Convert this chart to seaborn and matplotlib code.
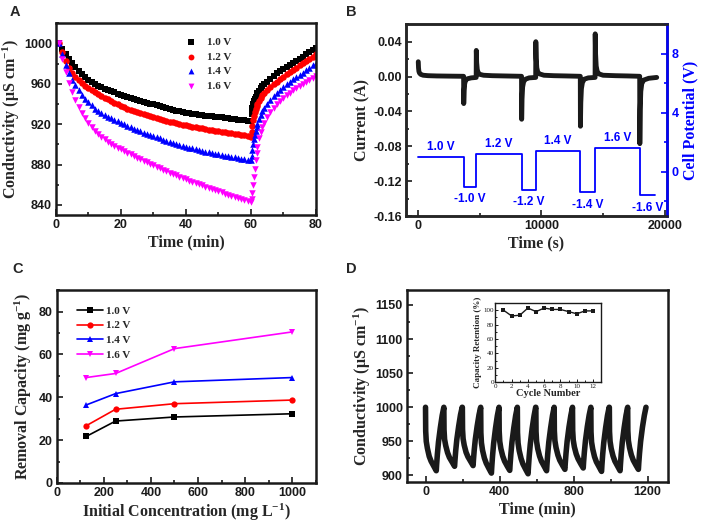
import numpy as np
import pandas as pd
import matplotlib
matplotlib.use('Agg')
import matplotlib.pyplot as plt
from matplotlib.ticker import MultipleLocator
import seaborn as sns

# ---------------- Panel A: conductivity vs time at four voltages ----------------
a_time = list(range(1, 61)) + [60.25, 60.5, 60.75, 61, 61.25, 61.5, 61.75, 62, 62.5, 63, 63.5, 64] + list(range(65, 81))

a_10v = [1000, 994, 989, 985, 981, 977, 973, 969.5, 966.5, 964,
         962, 960, 958, 956.5, 955, 953.5, 952.5, 951.5, 950, 949,
         948, 947, 946, 945, 944, 943, 942, 941, 940, 939.5,
         938.5, 937.5, 936.5, 936, 935, 934.5, 933.5, 933, 932, 931.5,
         931, 930.5, 930, 929.5, 929, 928.5, 928, 927.8, 927.4, 927,
         926.6, 926.2, 925.8, 925.4, 925, 924.6, 924.2, 923.8, 923.4, 923,
         930, 936, 940, 943, 945, 947, 949, 950.5, 953, 955.5, 957.5, 959.5,
         962, 965, 968, 970.5, 973, 975, 977, 979, 981, 983, 985, 987, 989, 991, 993, 995]
a_12v = [1000, 991, 983, 976, 971, 967, 963.5, 961, 958, 956,
         954, 952, 950, 948, 946, 944.5, 943, 941, 939.5, 938,
         937, 935.5, 934.5, 933, 932, 931, 930, 929, 928, 927,
         926, 925, 924.2, 923.4, 922.6, 921.8, 921, 920.3, 919.6, 919,
         918.3, 917.6, 917, 916.4, 915.8, 915.2, 914.6, 914, 913.4, 912.9,
         912.4, 911.9, 911.4, 910.9, 910.4, 909.9, 909.4, 908.8, 908.2, 907.5,
         912, 918, 924, 928, 932, 935, 937.5, 939.5, 943, 946, 948.5, 950.5,
         953.5, 956.5, 959.5, 962, 964.5, 967, 969.5, 971.5, 974, 976, 978.5, 980.5, 983, 985, 987, 989]
a_14v = [1000, 989, 979, 971, 964, 959, 954, 949, 945, 941.5,
         938.5, 935.5, 933, 931, 929, 927.3, 925.8, 924.3, 922.9, 921.5,
         920, 918.5, 917, 915.5, 914, 912.8, 911.6, 910.4, 909.2, 908,
         906.9, 905.8, 904.7, 903.6, 902.6, 901.6, 900.6, 899.6, 898.6, 897.7,
         896.8, 896, 895.2, 894.4, 893.6, 892.9, 892.2, 891.5, 890.8, 890.1,
         889.5, 888.9, 888.3, 887.7, 887.1, 886.5, 885.9, 885.3, 884.6, 884,
         888, 894, 900, 905, 909, 913, 917, 920, 925, 929.5, 933, 936,
         940, 944, 947.5, 951, 954, 957, 959.5, 962, 964.5, 966.5, 968.5, 971, 973.5, 976, 978.5, 981]
a_16v = [1000, 985, 972, 961, 952, 944, 937, 931, 926, 921.5,
         917, 913.5, 910.5, 907.5, 905, 902.5, 900.5, 898.5, 896.5, 895,
         893.3, 891.6, 890, 888.4, 886.8, 885.2, 883.6, 882.1, 880.6, 879.1,
         877.6, 876.2, 874.8, 873.4, 872, 870.6, 869.3, 868, 866.7, 865.4,
         864.1, 862.9, 861.7, 860.5, 859.3, 858.1, 856.9, 855.7, 854.6, 853.5,
         852.4, 851.3, 850.2, 849.1, 848, 847, 846, 845, 844, 843,
         846, 852, 860, 868, 876, 884, 891, 897, 906, 912, 917, 921,
         927, 932, 936, 940, 943, 946, 948.5, 951, 953.5, 955.5, 957.5, 959.5, 961.5, 963.5, 965.5, 967.5]

voltages = ['1.0 V', '1.2 V', '1.4 V', '1.6 V']
colors = ['#000000', '#FF0000', '#0000FF', '#FF00FF']
markers = ['s', 'o', '^', 'v']

# ---------------- Panel B: current and applied cell potential ----------------
b_time = [0, 20, 50, 100, 200, 400, 800, 1500, 2500, 3680,
          3690, 3720, 3770, 3850, 4000, 4300, 4700,
          4710, 4740, 4790, 4870, 5000, 5300, 6000, 7000, 8380,
          8390, 8420, 8470, 8550, 8700, 9000, 9530,
          9540, 9570, 9620, 9700, 9850, 10200, 11000, 12000, 13150,
          13160, 13190, 13240, 13320, 13470, 13800, 14350,
          14360, 14390, 14440, 14520, 14670, 15000, 16000, 17000, 17970,
          17980, 18010, 18060, 18140, 18300, 18700, 19350]
b_current = [0.017, 0.010, 0.006, 0.004, 0.0025, 0.0015, 0.001, 0.0007, 0.0005, 0.0003,
             -0.031, -0.016, -0.008, -0.004, -0.0025, -0.0015, -0.001,
             0.030, 0.016, 0.008, 0.004, 0.0025, 0.0015, 0.001, 0.0007, 0.0003,
             -0.049, -0.026, -0.012, -0.006, -0.003, -0.0015, -0.001,
             0.040, 0.021, 0.010, 0.005, 0.003, 0.0015, 0.001, 0.0007, 0.0003,
             -0.057, -0.030, -0.014, -0.007, -0.003, -0.0015, -0.001,
             0.049, 0.026, 0.012, 0.006, 0.003, 0.0015, 0.001, 0.0007, 0.0003,
             -0.077, -0.038, -0.017, -0.008, -0.004, -0.002, -0.001]
p_time = [0, 3680, 4710, 8390, 9540, 13160, 14360, 17980, 19250]
p_volt = [1.0, -1.0, 1.2, -1.2, 1.4, -1.4, 1.6, -1.6, -1.6]
p_labels = ['1.0 V', '-1.0 V', '1.2 V', '-1.2 V', '1.4 V', '-1.4 V', '1.6 V', '-1.6 V']

# ---------------- Panel C: removal capacity vs initial concentration ----------------
c_conc = [125, 250, 500, 1000]
c_10v = [21.7, 28.9, 30.8, 32.3]
c_12v = [26.7, 34.4, 37.0, 38.7]
c_14v = [36.4, 41.7, 47.2, 49.2]
c_16v = [49.2, 51.1, 62.7, 70.5]

# ---------------- Panel D: cycling stability ----------------
d_cycle_start = [0, 99, 199, 298, 397, 496, 596, 695, 794, 893, 993, 1092]
d_offset = [0, 1, 4, 10, 20, 30, 45, 58, 60, 64, 70, 80, 90, 99]
d_cond = [
    [1000, 965, 950, 940, 928, 921, 913.5, 907, 916, 931, 949, 970, 988, 1000],
    [1000, 967, 953, 944, 933.5, 926.5, 919.5, 913.5, 922, 936, 952.5, 972, 989, 1000],
    [1000, 967.5, 954, 944.5, 934, 927.5, 920.5, 914.5, 923, 937, 953, 972.5, 989, 1000],
    [1000, 963, 948, 937, 925.5, 918, 910, 903.5, 913, 928.5, 947, 969, 987.5, 1000],
    [1000, 965, 950, 939.5, 928.5, 921, 913.5, 907.5, 916.5, 931, 949, 970, 988, 1000],
    [1000, 963, 947.5, 936.5, 925, 917, 909, 902.5, 912, 928, 946, 969, 987, 1000],
    [1000, 964.5, 950, 939.5, 928.5, 921, 913.5, 907, 916, 931, 949, 970, 988, 1000],
    [1000, 965.5, 951, 941, 930, 922.5, 915, 909, 918, 932.5, 950, 971, 988, 1000],
    [1000, 966, 952, 942, 931.5, 924.5, 917, 911, 920, 934, 951, 971.5, 988.5, 1000],
    [1000, 964, 949, 939, 927.5, 920, 912.5, 906, 915.5, 930.5, 948.5, 970, 988, 1000],
    [1000, 964.5, 950, 939.5, 928.5, 921, 913.5, 907, 916, 931, 949, 970, 988, 1000],
    [1000, 965.5, 951, 941, 930, 922.5, 915, 909, 918, 932.5, 950, 971, 988, 1000],
]
inset_cycle = [1, 2, 3, 4, 5, 6, 7, 8, 9, 10, 11, 12]
inset_retention = [100, 92, 93, 103, 98, 103, 101, 101, 98, 95, 99, 99]

# ---------------- style ----------------
sns.set_theme(style='ticks')
plt.rcParams['font.family'] = ['Liberation Sans', 'DejaVu Sans']
plt.rcParams['font.weight'] = 'bold'
plt.rcParams['axes.unicode_minus'] = False
plt.rcParams['mathtext.fontset'] = 'custom'
plt.rcParams['mathtext.rm'] = 'Liberation Serif:bold'
plt.rcParams['mathtext.it'] = 'Liberation Serif:bold'
plt.rcParams['mathtext.bf'] = 'Liberation Serif:bold'

SERIF = 'Liberation Serif'
BLUE = '#0000FF'
LABEL_FS = 11.5
TICK_FS = 9


def style_axes(ax, lw=1.8, tick_fs=TICK_FS):
    for s in ax.spines.values():
        s.set_linewidth(lw)
        s.set_color('k')
    ax.tick_params(which='both', direction='in', top=False, right=False,
                   width=1.2, labelsize=tick_fs, pad=3, colors='k')
    ax.tick_params(which='major', length=4)
    ax.tick_params(which='minor', length=2.5)


def serif_label(ax, xl, yl, size=LABEL_FS, xpad=2, ypad=4):
    ax.set_xlabel(xl, fontfamily=SERIF, fontsize=size, fontweight='bold', labelpad=xpad)
    ax.set_ylabel(yl, fontfamily=SERIF, fontsize=size, fontweight='bold', labelpad=ypad)


fig = plt.figure(figsize=(7.06, 5.27), dpi=100)

# ---- A ----
axA = fig.add_axes([0.0793, 0.592, 0.368, 0.364])
for vals, lab, col, mk in zip([a_10v, a_12v, a_14v, a_16v], voltages, colors, markers):
    sns.scatterplot(x=a_time, y=vals, ax=axA, marker=mk, color=col, s=22,
                    linewidth=0, label=lab)
axA.set_xlim(0, 80)
axA.set_ylim(830, 1020)
axA.xaxis.set_major_locator(MultipleLocator(20))
axA.xaxis.set_minor_locator(MultipleLocator(10))
axA.yaxis.set_major_locator(MultipleLocator(40))
axA.yaxis.set_minor_locator(MultipleLocator(20))
style_axes(axA)
serif_label(axA, 'Time (min)', r'Conductivity (μS cm$^{-1}$)', ypad=1)
axA.legend(loc='upper left', bbox_to_anchor=(0.44, 0.98), frameon=False,
           prop={'family': SERIF, 'weight': 'bold', 'size': 8},
           handletextpad=0.4, labelspacing=0.45, markerscale=0.9)

# ---- B ----
axB = fig.add_axes([0.575, 0.590, 0.370, 0.364])
sns.lineplot(x=b_time, y=b_current, ax=axB, color='k', lw=3.5,
             sort=False, estimator=None)
axB.set_xlim(-1000, 20200)
axB.set_ylim(-0.16, 0.06)
axB.xaxis.set_major_locator(MultipleLocator(10000))
axB.xaxis.set_minor_locator(MultipleLocator(5000))
axB.yaxis.set_major_locator(MultipleLocator(0.04))
axB.yaxis.set_minor_locator(MultipleLocator(0.02))
style_axes(axB)
serif_label(axB, 'Time (s)', 'Current (A)', ypad=2)

axB2 = axB.twinx()
sns.lineplot(x=p_time, y=p_volt, ax=axB2, color=BLUE, lw=1.3,
             drawstyle='steps-post', sort=False, estimator=None)
axB2.set_ylim(-3, 10)
axB2.yaxis.set_major_locator(MultipleLocator(4))
axB2.yaxis.set_minor_locator(MultipleLocator(2))
for s in axB2.spines.values():
    s.set_linewidth(1.8)
axB2.spines['right'].set_color(BLUE)
axB2.tick_params(which='both', direction='in', right=True, left=False, top=False,
                 width=1.2, labelsize=TICK_FS, pad=3, colors=BLUE)
axB2.tick_params(which='major', length=4)
axB2.tick_params(which='minor', length=2.5)
axB2.set_ylabel('Cell Potential (V)', fontfamily=SERIF, fontsize=LABEL_FS,
                fontweight='bold', color=BLUE, labelpad=3)
for i, lab in enumerate(p_labels):
    xm = (p_time[i] + p_time[i + 1]) / 2
    v = p_volt[i]
    if v > 0:
        axB2.text(xm, v + 0.3, lab, color=BLUE, fontsize=8.5, ha='center', va='bottom')
    else:
        axB2.text(xm, v - 0.45, lab, color=BLUE, fontsize=8.5, ha='center', va='top')

# ---- C ----
axC = fig.add_axes([0.0803, 0.0835, 0.367, 0.366])
for vals, lab, col, mk in zip([c_10v, c_12v, c_14v, c_16v], voltages, colors, markers):
    sns.lineplot(x=c_conc, y=vals, ax=axC, color=col, marker=mk, markersize=4.5,
                 markeredgewidth=0, lw=1.2, label=lab)
axC.set_xlim(0, 1100)
axC.set_ylim(0, 90)
axC.xaxis.set_major_locator(MultipleLocator(200))
axC.xaxis.set_minor_locator(MultipleLocator(100))
axC.yaxis.set_major_locator(MultipleLocator(20))
axC.yaxis.set_minor_locator(MultipleLocator(10))
style_axes(axC)
serif_label(axC, r'Initial Concentration (mg L$^{-1}$)', r'Removal Capacity (mg g$^{-1}$)', ypad=3)
axC.legend(loc='upper left', bbox_to_anchor=(0.04, 0.97), frameon=False,
           prop={'family': SERIF, 'weight': 'bold', 'size': 8},
           handlelength=2.3, handletextpad=0.3, labelspacing=0.45)

# ---- D ----
axD = fig.add_axes([0.5765, 0.0848, 0.3697, 0.365])
d_time, d_vals = [], []
for start, vals in zip(d_cycle_start, d_cond):
    d_time += [start + o for o in d_offset]
    d_vals += vals
sns.lineplot(x=d_time, y=d_vals, ax=axD, color='k', lw=4, sort=False, estimator=None)
axD.set_xlim(-100, 1310)
axD.set_ylim(890, 1172)
axD.xaxis.set_major_locator(MultipleLocator(400))
axD.xaxis.set_minor_locator(MultipleLocator(200))
axD.yaxis.set_major_locator(MultipleLocator(50))
axD.yaxis.set_minor_locator(MultipleLocator(25))
style_axes(axD)
serif_label(axD, 'Time (min)', r'Conductivity (μS cm$^{-1}$)', ypad=1)

axIn = fig.add_axes([0.7016, 0.2746, 0.150, 0.1505])
sns.lineplot(x=inset_cycle, y=inset_retention, ax=axIn, color='k', lw=1.0,
             marker='s', markersize=2.2, markeredgewidth=0)
axIn.set_xlim(0, 13)
axIn.set_ylim(0, 110)
axIn.xaxis.set_major_locator(MultipleLocator(2))
axIn.xaxis.set_minor_locator(MultipleLocator(1))
axIn.yaxis.set_major_locator(MultipleLocator(20))
axIn.yaxis.set_minor_locator(MultipleLocator(10))
style_axes(axIn, lw=1.0, tick_fs=5)
axIn.tick_params(which='both', pad=1, width=0.7)
axIn.tick_params(which='major', length=2)
axIn.tick_params(which='minor', length=1.2)
for t in axIn.get_xticklabels() + axIn.get_yticklabels():
    t.set_fontfamily(SERIF)
    t.set_fontweight('normal')
axIn.set_xlabel('Cycle Number', fontfamily=SERIF, fontsize=7.5, fontweight='bold', labelpad=0)
axIn.set_ylabel('Capacity Retention (%)', fontfamily=SERIF, fontsize=6.5, fontweight='bold', labelpad=1)

# ---- panel letters ----
for lab, x, y in [('A', 10, 5), ('B', 346, 5), ('C', 12, 262), ('D', 346, 262)]:
    fig.text(x / 706, 1 - y / 527, lab, fontsize=10.5, fontweight='bold', ha='left', va='top')

fig.savefig('out.png', dpi=100)
